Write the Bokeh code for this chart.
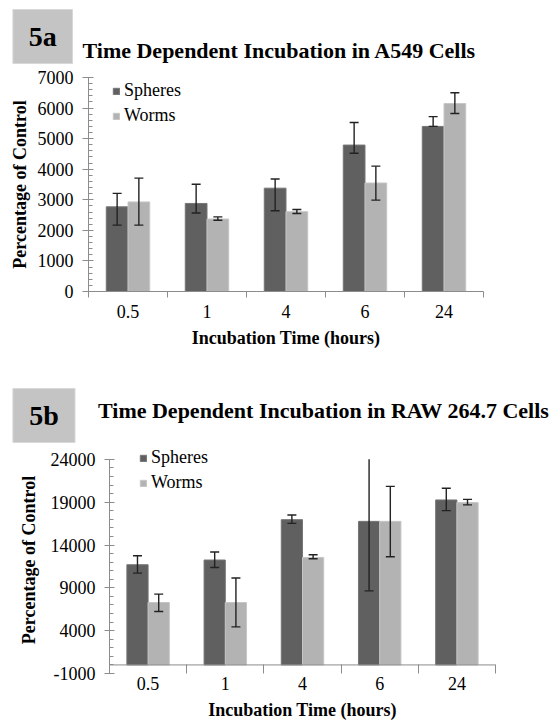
import numpy as np
from bokeh.plotting import figure
from bokeh.models import (ColumnDataSource, Range1d, LinearAxis, FixedTicker, Whisker,
                          TeeHead, Legend, LegendItem, Span)
from bokeh.core.properties import value
from bokeh.layouts import column
from bokeh.embed import file_html
from bokeh.resources import INLINE

# ---------------- data ----------------
times = ["0.5", "1", "4", "6", "24"]

# 5a  A549 cells
a549_spheres = [2770, 2880, 3380, 4790, 5400]
a549_spheres_upper = [3210, 3510, 3680, 5530, 5720]
a549_spheres_lower = [2170, 2570, 2640, 4520, 5400]
a549_worms = [2930, 2370, 2610, 3550, 6150]
a549_worms_upper = [3710, 2440, 2680, 4100, 6500]
a549_worms_lower = [2170, 2330, 2550, 2990, 5820]
a549_yticks = [0, 1000, 2000, 3000, 4000, 5000, 6000, 7000]

# 5b  RAW 264.7 cells
raw_spheres = [11700, 12250, 16960, 16760, 19260]
raw_spheres_upper = [12750, 13180, 17510, 24870, 20620]
raw_spheres_lower = [10720, 11380, 16530, 8650, 18010]
raw_worms = [7290, 7290, 12550, 16760, 18950]
raw_worms_upper = [8270, 10140, 12870, 20850, 19330]
raw_worms_lower = [6230, 4440, 12400, 12630, 18680]
raw_yticks = [-1000, 4000, 9000, 14000, 19000, 24000]

# ---------------- style ----------------
SERIF = "Liberation Serif"
DARK = "#606060"
DARK_EDGE = "#767676"
LIGHT = "#b3b3b3"
LIGHT_EDGE = "#c6c6c6"
AXIS = "#8c8c8c"
ERR = "#222222"
BOXC = "#c4c4c4"
W = 553


def make_header(h, tag, title, box, tag_xy, title_xy):
    hp = figure(width=W, height=h, x_range=Range1d(0, W), y_range=Range1d(h, 0),
                output_backend="svg", toolbar_location=None,
                x_axis_type=None, y_axis_type=None, min_border=0)
    hp.min_border_left = hp.min_border_right = 0
    hp.min_border_top = hp.min_border_bottom = 0
    hp.frame_align = False
    hp.title.visible = False
    hp.outline_line_color = None
    hp.quad(left=[box[0]], right=[box[1]], top=[box[2]], bottom=[box[3]],
            fill_color=BOXC, line_color="#d8d8d8", line_width=1)
    hp.text(x=[tag_xy[0]], y=[tag_xy[1]], text=[tag], text_font=value(SERIF),
            text_font_style="bold", text_font_size="28px", text_color="black",
            text_align="center", text_baseline="middle")
    hp.text(x=[title_xy[0]], y=[title_xy[1]], text=[title], text_font=value(SERIF),
            text_font_style="bold", text_font_size="22px", text_color="black",
            text_align="left", text_baseline="middle")
    return hp


def add_errors(p, xs, up, lo, ymax):
    over = [u > ymax for u in up]
    keep = [i for i, o in enumerate(over) if not o]
    cut = [i for i, o in enumerate(over) if o]
    head = dict(size=9, line_color=ERR, line_width=1.4)
    if keep:
        src = ColumnDataSource(dict(x=[xs[i] for i in keep], up=[up[i] for i in keep],
                                    lo=[lo[i] for i in keep]))
        p.add_layout(Whisker(base="x", upper="up", lower="lo", source=src, level="overlay",
                             line_color=ERR, line_width=1.4,
                             upper_head=TeeHead(**head), lower_head=TeeHead(**head)))
    if cut:
        # error bars running past the top of the value axis are cut there, without a cap
        src = ColumnDataSource(dict(x=[xs[i] for i in cut],
                                    up=[min(up[i], ymax) for i in cut],
                                    lo=[lo[i] for i in cut]))
        p.add_layout(Whisker(base="x", upper="up", lower="lo", source=src, level="overlay",
                             line_color=ERR, line_width=1.4,
                             upper_head=None, lower_head=TeeHead(**head)))


def make_chart(sph, sph_up, sph_lo, wrm, wrm_up, wrm_lo, yticks, yminor,
               y_start, y_end, height, fl, fr, ft, fb, legend_xy,
               x_std, x_lab_std, y_std, y_lab_std, tick_out, tick_in, zero_line):
    p = figure(width=W, height=height, x_range=Range1d(0, len(times)),
               y_range=Range1d(y_start, y_end), output_backend="svg",
               toolbar_location=None, x_axis_type=None, y_axis_type=None,
               min_border_left=fl, min_border_right=W - fr,
               min_border_top=ft, min_border_bottom=height - fb)
    p.frame_align = False
    p.title.visible = False
    p.outline_line_color = None

    centers = np.arange(len(times)) + 0.5
    bw = 0.275
    xs_s = list(centers - bw / 2)
    xs_w = list(centers + bw / 2)
    r_s = p.vbar(x=xs_s, top=sph, width=bw, fill_color=DARK,
                 line_color=DARK_EDGE, line_width=1)
    r_w = p.vbar(x=xs_w, top=wrm, width=bw, fill_color=LIGHT,
                 line_color=LIGHT_EDGE, line_width=1)

    ymax = max(yticks)
    add_errors(p, xs_s, sph_up, sph_lo, ymax)
    add_errors(p, xs_w, wrm_up, wrm_lo, ymax)

    # y axis
    yaxis = LinearAxis(ticker=FixedTicker(ticks=yticks, minor_ticks=yminor),
                       axis_label="Percentage of Control",
                       bounds=(min(yticks), max(yticks)),
                       major_label_overrides={t: str(t) for t in yticks if t < 0})
    yaxis.axis_line_color = AXIS
    yaxis.major_tick_line_color = AXIS
    yaxis.minor_tick_line_color = AXIS
    yaxis.major_tick_out = tick_out
    yaxis.major_tick_in = tick_in
    yaxis.minor_tick_in = 4
    yaxis.minor_tick_out = 0
    yaxis.major_label_standoff = y_std
    yaxis.major_label_text_font = SERIF
    yaxis.major_label_text_font_size = "18px"
    yaxis.major_label_text_color = "black"
    yaxis.axis_label_text_font = SERIF
    yaxis.axis_label_text_font_size = "18px"
    yaxis.axis_label_text_font_style = "bold"
    yaxis.axis_label_text_color = "black"
    yaxis.axis_label_standoff = y_lab_std
    p.add_layout(yaxis, "left")

    # x axis: category labels at centres, divider ticks between categories
    xaxis = LinearAxis(ticker=FixedTicker(ticks=list(centers),
                                          minor_ticks=list(range(len(times) + 1))),
                       axis_label="Incubation Time (hours)",
                       major_label_overrides={float(c): t for c, t in zip(centers, times)})
    xaxis.major_tick_line_color = None
    xaxis.major_tick_out = 0
    xaxis.major_tick_in = 0
    xaxis.minor_tick_line_color = AXIS
    if zero_line:
        # the category axis crosses the value axis at 0
        xaxis.axis_line_color = None
        xaxis.minor_tick_out = 0
        xaxis.minor_tick_in = 9
        p.add_layout(Span(location=0, dimension="width", line_color=AXIS, line_width=1))
    else:
        xaxis.axis_line_color = AXIS
        xaxis.minor_tick_out = 6
        xaxis.minor_tick_in = 0
    xaxis.major_label_standoff = x_std
    xaxis.major_label_text_font = SERIF
    xaxis.major_label_text_font_size = "18px"
    xaxis.major_label_text_color = "black"
    xaxis.axis_label_text_font = SERIF
    xaxis.axis_label_text_font_size = "18px"
    xaxis.axis_label_text_font_style = "bold"
    xaxis.axis_label_text_color = "black"
    xaxis.axis_label_standoff = x_lab_std
    p.add_layout(xaxis, "below")

    legend = Legend(items=[LegendItem(label="Spheres", renderers=[r_s]),
                           LegendItem(label="Worms", renderers=[r_w])],
                    location=legend_xy)
    legend.glyph_width = 8
    legend.glyph_height = 8
    legend.label_standoff = 4
    legend.spacing = 4
    legend.padding = 0
    legend.margin = 0
    legend.label_height = 20
    legend.border_line_color = None
    legend.background_fill_alpha = 0
    legend.label_text_font = SERIF
    legend.label_text_font_size = "18px"
    legend.label_text_color = "black"
    p.add_layout(legend)
    return p


# page rows: header1 0-65, chart1 65-362, header2 362-445, chart2 445-723
h1 = make_header(65, "5a", "Time Dependent Incubation in A549 Cells",
                 box=(12.4, 72, 9, 63), tag_xy=(42.2, 36), title_xy=(82, 50))

c1 = make_chart(a549_spheres, a549_spheres_upper, a549_spheres_lower,
                a549_worms, a549_worms_upper, a549_worms_lower,
                a549_yticks, list(range(0, 7001, 200)), 0, 7000, 297,
                fl=88, fr=483, ft=12, fb=226, legend_xy=(24, 165),
                x_std=7, x_lab_std=7, y_std=9, y_lab_std=5,
                tick_out=6, tick_in=5, zero_line=False)

h2 = make_header(83, "5b", "Time Dependent Incubation in RAW 264.7 Cells",
                 box=(12.4, 74.5, 26, 80), tag_xy=(43.5, 53), title_xy=(97.5, 48))

c2 = make_chart(raw_spheres, raw_spheres_upper, raw_spheres_lower,
                raw_worms, raw_worms_upper, raw_worms_lower,
                raw_yticks, list(range(-1000, 24001, 1000)), -1000, 25500, 278,
                fl=109, fr=495, ft=1, fb=228, legend_xy=(30, 180),
                x_std=3, x_lab_std=7, y_std=9, y_lab_std=9,
                tick_out=5, tick_in=5, zero_line=True)

layout = column(h1, c1, h2, c2, spacing=0)
open("out.html", "w").write(file_html(layout, INLINE))
